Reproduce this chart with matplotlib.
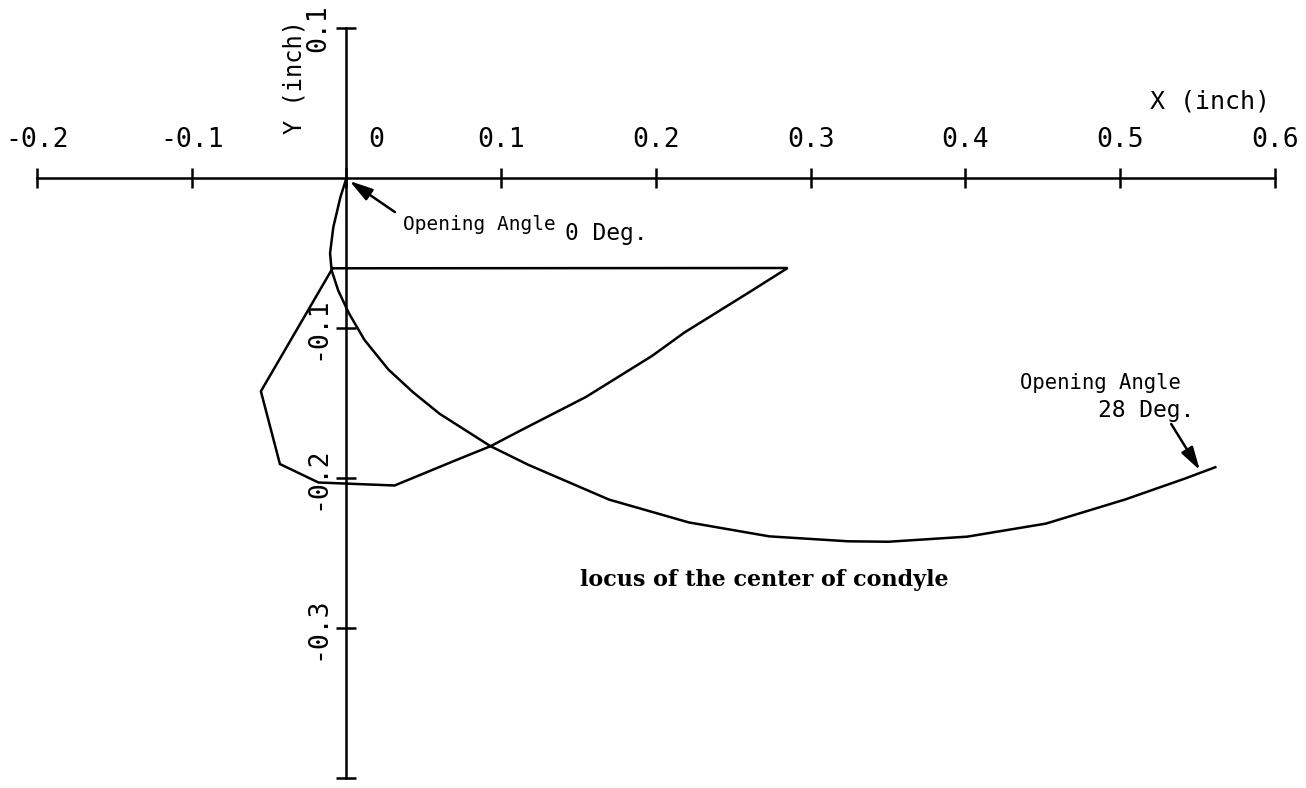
import matplotlib
matplotlib.use("Agg")
import matplotlib.pyplot as plt

# Path of the condyle centre while the jaw opens from 0 to 28 degrees (inch)
locus_x = [0.0, -0.0039, -0.0085, -0.0106, -0.0096, -0.0054, 0.0015, 0.0116,
           0.0271, 0.0430, 0.0602, 0.0931, 0.1173, 0.1697, 0.2212, 0.2732,
           0.3243, 0.3502, 0.4012, 0.4520, 0.5033, 0.5418, 0.5615]
locus_y = [0.0, -0.0127, -0.0328, -0.0502, -0.0615, -0.0748, -0.0900, -0.1079,
           -0.1277, -0.1428, -0.1572, -0.1788, -0.1911, -0.2144, -0.2296, -0.2389,
           -0.2422, -0.2425, -0.2391, -0.2304, -0.2143, -0.2004, -0.1928]

# Closed outline of the region bounding the motion (inch)
outline_x = [-0.0090, 0.2851, 0.2610, 0.2184, 0.1975, 0.1549, 0.1122, 0.0931,
             0.0701, 0.0311, -0.0181, -0.0430, -0.0553, -0.0090]
outline_y = [-0.0602, -0.0600, -0.0757, -0.1030, -0.1186, -0.1459, -0.1685, -0.1788,
             -0.1884, -0.2050, -0.2030, -0.1907, -0.1422, -0.0602]

x_ticks = [-0.2, -0.1, 0.0, 0.1, 0.2, 0.3, 0.4, 0.5, 0.6]
x_tick_labels = ["-0.2", "-0.1", "0", "0.1", "0.2", "0.3", "0.4", "0.5", "0.6"]
y_ticks = [0.1, -0.1, -0.2, -0.3, -0.4]
y_tick_labels = ["0.1", "-0.1", "-0.2", "-0.3", ""]

start_angle = "0 Deg."
end_angle = "28 Deg."

mono = "DejaVu Sans Mono"
lw = 1.8

fig = plt.figure(figsize=(13.06, 7.88), dpi=100)
ax = fig.add_axes([0, 0, 1, 1])
ax.set_xlim(-0.2239, 0.6201)
ax.set_ylim(-0.40667, 0.11867)
ax.patch.set_visible(False)

# Cross-shaped axes through the origin
for side in ("top", "right"):
    ax.spines[side].set_visible(False)
ax.spines["bottom"].set_position(("data", 0))
ax.spines["left"].set_position(("data", 0))
ax.spines["bottom"].set_bounds(min(x_ticks), max(x_ticks))
ax.spines["left"].set_bounds(min(y_ticks), max(y_ticks))
for side in ("bottom", "left"):
    ax.spines[side].set_linewidth(lw)
ax.set_xticks(x_ticks)
ax.set_yticks(y_ticks)
ax.tick_params(direction="inout", length=14, width=lw,
               labelbottom=False, labelleft=False)

# Tick labels: above the x axis, rotated to the left of the y axis
for v, lab in zip(x_ticks, x_tick_labels):
    xpos = v + 0.019 if v == 0 else v
    ax.text(xpos, 0.0253, lab, family=mono, fontsize=19, ha="center", va="center")
for v, lab in zip(y_ticks, y_tick_labels):
    if lab:
        ax.text(-0.0185, v, lab, family=mono, fontsize=19, rotation=90,
                ha="center", va="center")

ax.text(0.5579, 0.0507, "X (inch)", family=mono, fontsize=18, ha="center", va="center")
ax.text(-0.0339, 0.0673, "Y (inch)", family=mono, fontsize=17, rotation=90,
        ha="center", va="center")

ax.plot(outline_x, outline_y, color="black", lw=lw, solid_joinstyle="miter")
ax.plot(locus_x, locus_y, color="black", lw=lw)

arrow = dict(arrowstyle="-|>,head_length=1.4,head_width=0.4", color="black",
             lw=lw, shrinkA=0, shrinkB=0)
ax.annotate("", xy=(locus_x[0] + 0.002, locus_y[0] - 0.002),
            xytext=(0.0313, -0.0227), arrowprops=arrow)
ax.annotate("", xy=(locus_x[-1] - 0.010, locus_y[-1] - 0.002),
            xytext=(0.5330, -0.164), arrowprops=arrow)

ax.text(0.0365, -0.0307, "Opening Angle", family=mono, fontsize=14,
        ha="left", va="center")
ax.text(0.1412, -0.0373, start_angle, family=mono, fontsize=16.5,
        ha="left", va="center")
ax.text(0.4352, -0.1367, "Opening Angle", family=mono, fontsize=14.8,
        ha="left", va="center")
ax.text(0.4856, -0.1547, end_angle, family=mono, fontsize=16.5,
        ha="left", va="center")

ax.text(0.1509, -0.268, "locus of the center of condyle", family="DejaVu Serif",
        fontweight="bold", fontsize=16, ha="left", va="center")

fig.savefig("out.png", dpi=100)
